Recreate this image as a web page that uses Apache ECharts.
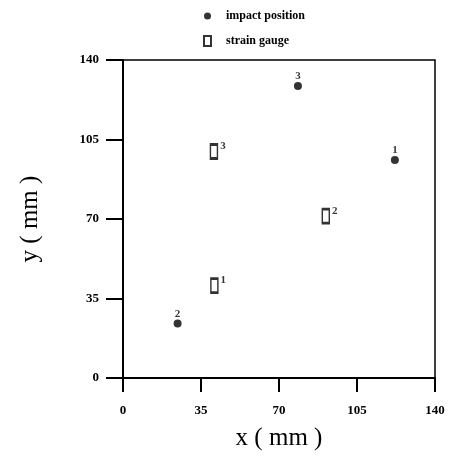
<!DOCTYPE html>
<html>
<head>
<meta charset="utf-8">
<script src="https://cdn.jsdelivr.net/npm/echarts@6/dist/echarts.min.js"></script>
<style>html,body{margin:0;padding:0;background:#fff}#c{width:449px;height:456px}</style>
</head>
<body>
<div id="c"></div>
<script>
const xTicks = [0, 35, 70, 105, 140];
const yTicks = [0, 35, 70, 105, 140];
const impactX = [122, 24.5, 78.5];
const impactY = [96, 24, 128.5];
const impactLabels = ['1', '2', '3'];
const gaugeX = [41, 91, 40.8];
const gaugeY = [40.7, 71.3, 99.7];
const gaugeLabels = ['1', '2', '3'];

const serif = '"Liberation Serif", "DejaVu Serif", serif';
const chart = echarts.init(document.getElementById('c'));
chart.setOption({
  animation: false,
  backgroundColor: '#fff',
  grid: { left: 123, right: 14, top: 60, bottom: 76, show: true, borderColor: '#000', borderWidth: 1.5, backgroundColor: 'transparent' },
  legend: {
    orient: 'vertical', left: 198, top: 5, itemGap: 13, itemWidth: 7, itemHeight: 10,
    textStyle: { fontFamily: serif, fontWeight: 'bold', fontSize: 12, color: '#000', padding: [0, 0, 0, 10] },
    data: [
      { name: 'impact position', icon: 'circle' },
      { name: 'strain gauge', icon: 'rect' }
    ]
  },
  xAxis: {
    type: 'value', min: xTicks[0], max: xTicks[xTicks.length - 1], interval: 35,
    name: 'x ( mm )', nameLocation: 'middle', nameGap: 48,
    nameTextStyle: { fontFamily: serif, fontSize: 25, color: '#000' },
    axisLine: { show: true, lineStyle: { color: '#000', width: 2 } },
    axisTick: { show: true, inside: false, length: 14, lineStyle: { color: '#000', width: 2 } },
    axisLabel: { margin: 26, fontFamily: serif, fontWeight: 'bold', fontSize: 13, color: '#000' },
    splitLine: { show: false }
  },
  yAxis: {
    type: 'value', min: yTicks[0], max: yTicks[yTicks.length - 1], interval: 35,
    name: 'y ( mm )', nameLocation: 'middle', nameGap: 80, nameRotate: 90,
    nameTextStyle: { fontFamily: serif, fontSize: 25, color: '#000' },
    axisLine: { show: true, lineStyle: { color: '#000', width: 2 } },
    axisTick: { show: true, inside: false, length: 17, lineStyle: { color: '#000', width: 2 } },
    axisLabel: { margin: 24, fontFamily: serif, fontWeight: 'bold', fontSize: 13, color: '#000' },
    splitLine: { show: false }
  },
  series: [
    {
      name: 'impact position', type: 'scatter', symbol: 'circle', symbolSize: 8,
      itemStyle: { color: '#000' },
      label: { show: true, position: 'top', distance: 0, fontFamily: serif, fontWeight: 'bold', fontSize: 11, color: '#000',
        formatter: p => impactLabels[p.dataIndex] },
      data: impactX.map((x, i) => [x, impactY[i]])
    },
    {
      name: 'strain gauge', type: 'scatter', symbol: 'rect', symbolSize: [7, 14],
      itemStyle: { color: '#fff', borderColor: '#000', borderWidth: 2 },
      label: { show: true, position: 'right', distance: 2, offset: [0, -5], fontFamily: serif, fontWeight: 'bold', fontSize: 11, color: '#000',
        formatter: p => gaugeLabels[p.dataIndex] },
      data: gaugeX.map((x, i) => [x, gaugeY[i]])
    }
  ]
});
</script>
</body>
</html>
